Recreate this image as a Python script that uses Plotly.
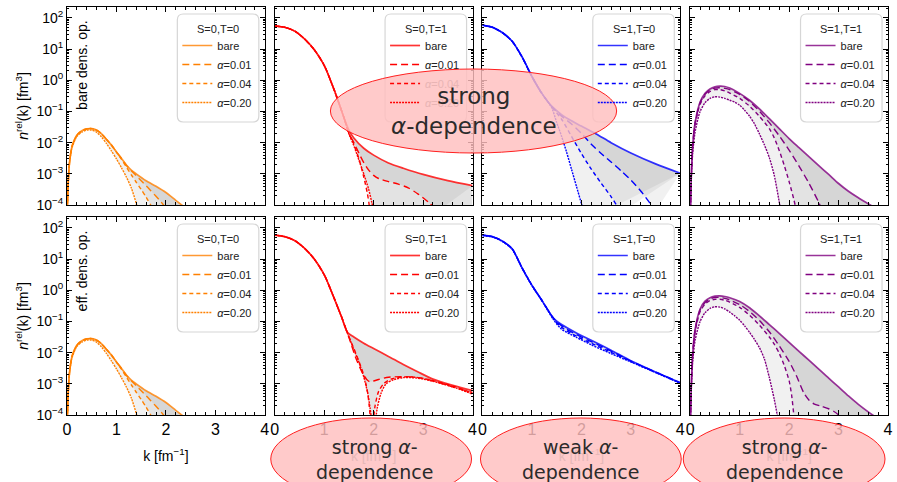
import numpy as np
import plotly.graph_objects as go

# ---------------- data: log10 of n_rel(k) [fm^3] ----------------
K_LOW = [0.005, 0.01, 0.02, 0.05, 0.1, 0.2, 0.3, 0.4, 0.5, 0.6, 0.7, 0.8]

# S=0,T=0 (same in both rows)
k00_bare = K_LOW + [0.9, 1.0, 1.1, 1.2, 1.3, 1.4, 1.6, 1.8, 2.0, 2.2, 2.4]
n00_bare = [-4.6, -4.0, -3.45, -2.65, -2.13, -1.76, -1.62, -1.56, -1.55, -1.6, -1.72, -1.9,
            -2.08, -2.3, -2.5, -2.72, -2.88, -3.0, -3.22, -3.4, -3.6, -3.85, -4.1]
k00_a01 = K_LOW + [0.9, 1.0, 1.1, 1.2, 1.3, 1.4, 1.5, 1.6, 1.7, 1.8, 1.9, 2.0]
n00_a01 = [-4.6, -4.0, -3.45, -2.65, -2.13, -1.76, -1.62, -1.56, -1.55, -1.6, -1.72, -1.9,
           -2.08, -2.3, -2.5, -2.72, -2.9, -3.06, -3.22, -3.38, -3.55, -3.72, -3.9, -4.1]
k00_a04 = K_LOW + [0.9, 1.0, 1.1, 1.2, 1.3, 1.4, 1.5, 1.6, 1.7, 1.8]
n00_a04 = [-4.6, -4.0, -3.45, -2.65, -2.13, -1.76, -1.62, -1.56, -1.55, -1.6, -1.72, -1.9,
           -2.08, -2.3, -2.53, -2.78, -3.03, -3.27, -3.5, -3.75, -4.02, -4.3]
k00_a20 = K_LOW + [0.9, 1.0, 1.1, 1.2, 1.3, 1.4, 1.45]
n00_a20 = [-4.65, -4.05, -3.5, -2.7, -2.17, -1.8, -1.66, -1.6, -1.6, -1.67, -1.82, -2.03,
           -2.27, -2.52, -2.8, -3.1, -3.45, -3.95, -4.3]

# S=0,T=1 bare operator
k01_bare = [0, 0.2, 0.4, 0.6, 0.8, 1.0, 1.2, 1.4, 1.5, 1.6, 1.8, 2.0, 2.3, 2.6, 3.0, 3.5, 4.0]
n01_bare = [1.74, 1.70, 1.58, 1.33, 0.98, 0.48, -0.3, -1.2, -1.6, -1.85, -2.18, -2.4, -2.65, -2.82, -3.02, -3.22, -3.38]
k01_a01 = [0, 0.2, 0.4, 0.6, 0.8, 1.0, 1.2, 1.4, 1.5, 1.6, 1.7, 1.8, 1.9, 2.0, 2.1, 2.3, 2.5, 2.7, 2.9, 3.1, 3.3]
n01_a01 = [1.74, 1.70, 1.58, 1.33, 0.98, 0.48, -0.3, -1.2, -1.7, -2.0, -2.33, -2.64, -2.88, -3.05, -3.15, -3.25, -3.33, -3.45, -3.65, -3.9, -4.2]
k01_a04 = [0, 0.2, 0.4, 0.6, 0.8, 1.0, 1.2, 1.4, 1.5, 1.6, 1.7, 1.8, 1.87, 1.91, 1.95, 2.0, 3.0, 4.0]
n01_a04 = [1.74, 1.70, 1.58, 1.33, 0.98, 0.48, -0.3, -1.2, -1.7, -2.05, -2.5, -3.1, -3.6, -4.0, -4.6, -6.0, -6.0, -6.0]
k01_a20 = [0, 0.2, 0.4, 0.6, 0.8, 1.0, 1.2, 1.4, 1.5, 1.6, 1.7, 1.8, 1.9, 1.96, 2.01, 2.05, 3.0, 4.0]
n01_a20 = [1.74, 1.70, 1.58, 1.33, 0.98, 0.48, -0.3, -1.2, -1.72, -2.1, -2.55, -3.0, -3.5, -3.9, -4.3, -6.0, -6.0, -6.0]

# S=1,T=0 bare operator
k02_bare = [0, 0.2, 0.4, 0.6, 0.8, 1.0, 1.2, 1.4, 1.6, 1.8, 2.0, 2.3, 2.6, 3.0, 3.5, 4.0]
n02_bare = [1.77, 1.70, 1.53, 1.25, 0.75, 0.12, -0.42, -0.83, -1.1, -1.3, -1.47, -1.72, -2.0, -2.33, -2.68, -2.98]
k02_a01 = [0, 0.2, 0.4, 0.6, 0.8, 1.0, 1.2, 1.4, 1.6, 1.8, 2.0, 2.2, 2.4, 2.6, 2.8, 3.0, 3.2, 3.4, 3.5]
n02_a01 = [1.77, 1.70, 1.53, 1.25, 0.75, 0.12, -0.42, -0.84, -1.15, -1.4, -1.7, -2.05, -2.35, -2.62, -2.9, -3.2, -3.55, -3.97, -4.2]
k02_a04 = [0, 0.2, 0.4, 0.6, 0.8, 1.0, 1.2, 1.4, 1.6, 1.8, 2.0, 2.2, 2.4, 2.6, 2.71, 2.8]
n02_a04 = [1.77, 1.70, 1.53, 1.25, 0.75, 0.12, -0.42, -0.85, -1.25, -1.8, -2.35, -2.85, -3.3, -3.73, -4.0, -4.25]
k02_a20 = [0, 0.2, 0.4, 0.6, 0.8, 1.0, 1.2, 1.4, 1.5, 1.6, 1.7, 1.8, 1.9, 2.0, 2.1]
n02_a20 = [1.77, 1.70, 1.53, 1.25, 0.75, 0.12, -0.42, -0.88, -1.35, -1.8, -2.3, -2.85, -3.4, -3.95, -4.5]

# S=1,T=1 bare operator
k03_bare = K_LOW + [1.0, 1.2, 1.4, 1.6, 1.8, 2.0, 2.2, 2.4, 2.6, 2.8, 3.0, 3.2, 3.4, 3.6, 3.8]
n03_bare = [-4.3, -3.7, -3.1, -2.1, -1.35, -0.7, -0.42, -0.28, -0.21, -0.19, -0.2, -0.25,
            -0.42, -0.64, -0.92, -1.23, -1.55, -1.87, -2.16, -2.45, -2.74, -3.02, -3.31, -3.56, -3.77, -3.96, -4.15]
k03_a01 = K_LOW + [1.0, 1.2, 1.4, 1.6, 1.8, 2.0, 2.2, 2.4, 2.6, 2.7]
n03_a01 = [-4.3, -3.7, -3.1, -2.1, -1.36, -0.72, -0.45, -0.31, -0.25, -0.24, -0.26, -0.3,
           -0.45, -0.68, -0.99, -1.36, -1.78, -2.24, -2.75, -3.3, -3.92, -4.3]
k03_a04 = K_LOW + [1.0, 1.2, 1.4, 1.6, 1.7, 1.8, 1.9, 2.0, 2.1, 2.15]
n03_a04 = [-4.35, -3.75, -3.15, -2.15, -1.4, -0.77, -0.5, -0.36, -0.3, -0.3, -0.34, -0.41,
           -0.58, -0.83, -1.16, -1.55, -1.85, -2.25, -2.72, -3.25, -3.85, -4.2]
k03_a20 = K_LOW + [0.9, 1.0, 1.1, 1.2, 1.3, 1.4, 1.5, 1.6, 1.7, 1.8, 1.85]
n03_a20 = [-4.5, -3.9, -3.3, -2.35, -1.65, -1.0, -0.72, -0.58, -0.53, -0.54, -0.58, -0.64,
           -0.7, -0.8, -0.96, -1.15, -1.4, -1.72, -2.07, -2.48, -3.05, -3.9, -4.4]

# S=0,T=1 effective operator
k11_bare = [0, 0.2, 0.4, 0.6, 0.8, 1.0, 1.2, 1.35, 1.47, 1.6, 1.8, 2.0, 2.3, 2.6, 2.9, 3.2, 3.6, 4.0]
n11_bare = [1.77, 1.72, 1.6, 1.35, 1.0, 0.5, -0.25, -0.85, -1.35, -1.5, -1.7, -1.87, -2.12, -2.38, -2.62, -2.85, -3.05, -3.22]
k11_a01 = [0, 0.2, 0.4, 0.6, 0.8, 1.0, 1.2, 1.35, 1.47, 1.55, 1.63, 1.76, 1.86, 1.92, 2.0, 2.1, 2.3, 2.56, 2.8, 3.1, 3.5, 4.0]
n11_a01 = [1.77, 1.72, 1.6, 1.35, 1.0, 0.5, -0.25, -0.85, -1.37, -1.75, -2.13, -2.61, -2.86, -2.93, -2.91, -2.86, -2.79, -2.77, -2.78, -2.86, -3.05, -3.28]
k11_a04 = [0, 0.2, 0.4, 0.6, 0.8, 1.0, 1.2, 1.35, 1.47, 1.6, 1.7, 1.8, 1.87, 1.91, 1.94, 1.96, 1.99, 2.03, 2.1, 2.2, 2.35, 2.6, 2.9, 3.2, 3.6, 4.0]
n11_a04 = [1.77, 1.72, 1.6, 1.35, 1.0, 0.5, -0.25, -0.85, -1.37, -1.87, -2.27, -2.72, -3.2, -3.7, -4.3, -5.5, -4.3, -3.7, -3.25, -3.0, -2.85, -2.78, -2.8, -2.9, -3.07, -3.3]
k11_a20 = [0, 0.2, 0.4, 0.6, 0.8, 1.0, 1.2, 1.35, 1.47, 1.6, 1.7, 1.8, 1.88, 1.93, 1.97, 2.0, 2.03, 2.07, 2.15, 2.25, 2.4, 2.6, 2.9, 3.2, 3.6, 4.0]
n11_a20 = [1.77, 1.72, 1.6, 1.35, 1.0, 0.5, -0.25, -0.85, -1.38, -1.9, -2.3, -2.78, -3.3, -3.8, -4.4, -5.5, -4.4, -3.8, -3.3, -3.0, -2.87, -2.8, -2.82, -2.92, -3.1, -3.33]

# S=1,T=0 effective operator
k12_bare = [0, 0.2, 0.4, 0.6, 0.8, 1.0, 1.2, 1.44, 1.6, 1.9, 2.2, 2.6, 3.0, 3.5, 4.0]
n12_bare = [1.77, 1.72, 1.58, 1.33, 0.72, 0.16, -0.32, -0.90, -1.1, -1.37, -1.6, -1.92, -2.26, -2.62, -2.96]
n12_a01 = [1.77, 1.72, 1.58, 1.33, 0.72, 0.16, -0.32, -0.90, -1.14, -1.42, -1.65, -1.95, -2.27, -2.62, -2.97]
n12_a04 = [1.77, 1.72, 1.58, 1.33, 0.72, 0.16, -0.32, -0.92, -1.19, -1.47, -1.70, -1.99, -2.28, -2.63, -2.97]
n12_a20 = [1.75, 1.71, 1.57, 1.32, 0.71, 0.15, -0.33, -0.95, -1.25, -1.51, -1.75, -2.03, -2.30, -2.64, -2.98]

# S=1,T=1 effective operator
k13_bare = K_LOW + [1.0, 1.2, 1.4, 1.6, 1.8, 2.0, 2.2, 2.4, 2.6, 2.8, 3.0, 3.2, 3.4, 3.6, 3.8]
n13_bare = [-4.3, -3.7, -3.1, -2.05, -1.25, -0.6, -0.35, -0.24, -0.19, -0.18, -0.2, -0.24,
            -0.36, -0.56, -0.82, -1.1, -1.38, -1.67, -1.96, -2.24, -2.53, -2.82, -3.1, -3.39, -3.66, -3.9, -4.12]
k13_a01 = K_LOW + [1.0, 1.2, 1.4, 1.6, 1.8, 2.0, 2.15, 2.3, 2.4, 2.5, 2.65, 2.8, 2.9, 3.0, 3.1]
n13_a01 = [-4.3, -3.7, -3.1, -2.06, -1.27, -0.63, -0.39, -0.28, -0.23, -0.23, -0.26, -0.31,
           -0.46, -0.68, -0.97, -1.33, -1.78, -2.28, -2.75, -3.3, -3.52, -3.64, -3.72, -3.8, -3.88, -4.0, -4.2]
k13_a04 = K_LOW + [1.0, 1.2, 1.4, 1.6, 1.7, 1.8, 1.9, 2.0, 2.05, 2.1, 2.15]
n13_a04 = [-4.35, -3.75, -3.15, -2.1, -1.32, -0.68, -0.44, -0.33, -0.29, -0.29, -0.32, -0.38,
           -0.55, -0.8, -1.12, -1.5, -1.73, -2.02, -2.4, -2.9, -3.35, -4.05, -4.6]
k13_a20 = K_LOW + [0.9, 1.0, 1.1, 1.2, 1.3, 1.4, 1.5, 1.6, 1.7, 1.76, 1.82]
n13_a20 = [-4.5, -3.9, -3.3, -2.3, -1.6, -1.0, -0.72, -0.58, -0.53, -0.54, -0.6, -0.7,
           -0.82, -0.96, -1.14, -1.35, -1.58, -1.84, -2.2, -2.8, -3.5, -4.0, -4.6]

CHANNELS = ["S=0,T=0", "S=0,T=1", "S=1,T=0", "S=1,T=1"]
SERIES = ["bare", "<i>α</i>=0.01", "<i>α</i>=0.04", "<i>α</i>=0.20"]
ROW_LABELS = ["bare dens. op.", "eff. dens. op."]
Y_TICKS = [1e-4, 1e-3, 1e-2, 1e-1, 1e0, 1e1, 1e2]
Y_TICKTEXT = ["10<sup>−4</sup>", "10<sup>−3</sup>", "10<sup>−2</sup>", "10<sup>−1</sup>",
              "10<sup>0</sup>", "10<sup>1</sup>", "10<sup>2</sup>"]
X_TICKS = [0, 1, 2, 3, 4]
NOTES = ["strong<br><i>α</i>-dependence", "strong <i>α</i>-<br>dependence",
         "weak <i>α</i>-<br>dependence", "strong <i>α</i>-<br>dependence"]

PANELS = [
    [(k00_bare, n00_bare), (k00_a01, n00_a01), (k00_a04, n00_a04), (k00_a20, n00_a20)],
    [(k01_bare, n01_bare), (k01_a01, n01_a01), (k01_a04, n01_a04), (k01_a20, n01_a20)],
    [(k02_bare, n02_bare), (k02_a01, n02_a01), (k02_a04, n02_a04), (k02_a20, n02_a20)],
    [(k03_bare, n03_bare), (k03_a01, n03_a01), (k03_a04, n03_a04), (k03_a20, n03_a20)],
    [(k00_bare, n00_bare), (k00_a01, n00_a01), (k00_a04, n00_a04), (k00_a20, n00_a20)],
    [(k11_bare, n11_bare), (k11_a01, n11_a01), (k11_a04, n11_a04), (k11_a20, n11_a20)],
    [(k12_bare, n12_bare), (k12_bare, n12_a01), (k12_bare, n12_a04), (k12_bare, n12_a20)],
    [(k13_bare, n13_bare), (k13_a01, n13_a01), (k13_a04, n13_a04), (k13_a20, n13_a20)],
]

# ---------------- styling / geometry ----------------
W, H = 897, 482
ML, MR, MT, MB = 67, 4, 7, 67
PW, PH = W - ML - MR, H - MT - MB


def fx(p):
    return (p - ML) / PW


def fy(p):
    return (H - MB - p) / PH


COL_PX = [(67, 266), (276, 475), (485, 684), (694, 893)]
ROW_PX = [(7, 205), (217, 415)]
COLORS = ["#FF8000", "#FF0000", "#0000FF", "#800080"]
BARE_COLORS = ["rgba(255,128,0,0.8)", "rgba(255,0,0,0.8)", "rgba(0,0,255,0.8)", "rgba(128,0,128,0.8)"]
DASHES = ["solid", "7px,4px", "4px,3px", "2px,1px"]
FONT = "Liberation Sans, Arial, sans-serif"
SMOOTH = 0.7
# legend entries of panel (row 1, col 2) lying under the highlight ellipse appear faded
FADED = {(1, 2), (1, 3)}

fig = go.Figure()
layout = dict(width=W, height=H, margin=dict(l=ML, r=MR, t=MT, b=MB, pad=0),
              paper_bgcolor="white", plot_bgcolor="rgba(0,0,0,0)",
              font=dict(family=FONT, size=12, color="black"), showlegend=True)
shapes, annotations = [], []

minor_y = [m * 10.0 ** e for e in range(-4, 3) for m in range(2, 10)]

for i, curves in enumerate(PANELS):
    r, c = divmod(i, 4)
    sfx = "" if i == 0 else str(i + 1)
    xa, ya = "x" + sfx, "y" + sfx
    leg = "legend" + sfx
    kb, nb = curves[0]
    yb = np.power(10.0, nb)
    # shaded bands between bare and each alpha curve (three overlapping layers)
    for j in (3, 2, 1):
        fig.add_trace(go.Scatter(x=kb, y=yb, mode="lines", xaxis=xa, yaxis=ya, legend=leg,
                                 line=dict(width=0, shape="spline", smoothing=SMOOTH),
                                 showlegend=False, hoverinfo="skip"))
        kk, nn = curves[j]
        fig.add_trace(go.Scatter(x=kk, y=np.power(10.0, nn), mode="lines", xaxis=xa, yaxis=ya,
                                 legend=leg,
                                 line=dict(width=0, shape="spline", smoothing=SMOOTH),
                                 fill="tonexty", fillcolor="rgba(0,0,0,0.055)",
                                 showlegend=False, hoverinfo="skip"))
    for j in range(4):
        kk, nn = curves[j]
        name = SERIES[j]
        if (i, j) in FADED:
            name = f"<span style='color:#e8b4b4'>{name}</span>"
        fig.add_trace(go.Scatter(
            x=kk, y=np.power(10.0, nn), mode="lines", name=name, xaxis=xa, yaxis=ya,
            legend=leg,
            line=dict(color=BARE_COLORS[c] if j == 0 else COLORS[c],
                      width=1.7 if j == 0 else 1.4, dash=DASHES[j],
                      shape="spline", smoothing=SMOOTH),
            hoverinfo="skip"))

    x0, x1 = COL_PX[c]
    y0, y1 = ROW_PX[r]
    bottom = r == 1
    xax = dict(
        domain=[fx(x0), fx(x1)], anchor=ya, range=[0, 4], tickvals=X_TICKS,
        showticklabels=bottom, tickfont=dict(size=16, family=FONT),
        ticks="inside", ticklen=5, tickwidth=1, tickcolor="black",
        minor=dict(ticks="inside", ticklen=3, dtick=0.2, tick0=0, tickcolor="black", showgrid=False),
        showline=True, linecolor="black", linewidth=1, mirror="allticks",
        showgrid=False, zeroline=False)
    if bottom:
        xax["title"] = dict(text="k [fm<sup>−1</sup>]",
                            font=dict(size=14, family=FONT, color="black" if c == 0 else "#e6b8b8"),
                            standoff=13)
    layout["xaxis" + sfx] = xax
    yax = dict(
        domain=[fy(y1), fy(y0)], anchor=xa, type="log", range=[-4, 2.35],
        tickvals=Y_TICKS, ticktext=Y_TICKTEXT, showticklabels=(c == 0),
        tickfont=dict(size=14, family=FONT),
        ticks="inside", ticklen=5, tickwidth=1, tickcolor="black",
        minor=dict(ticks="inside", ticklen=2, tickvals=minor_y, tickcolor="black", showgrid=False),
        showline=True, linecolor="black", linewidth=1, mirror="allticks",
        showgrid=False, zeroline=False)
    if c == 0:
        yax["title"] = dict(text="<i>n</i><sup>rel</sup>(k) [fm<sup>3</sup>]",
                            font=dict(size=14, family=FONT), standoff=4)
    layout["yaxis" + sfx] = yax

    # legend box (rounded) + title + legend
    bl, br, bt, bb = x1 - 88, x1 - 6, y0 + 7, y0 + 115
    rr = 6
    path = (f"M {fx(bl + rr)},{fy(bt)} L {fx(br - rr)},{fy(bt)} Q {fx(br)},{fy(bt)} {fx(br)},{fy(bt + rr)} "
            f"L {fx(br)},{fy(bb - rr)} Q {fx(br)},{fy(bb)} {fx(br - rr)},{fy(bb)} "
            f"L {fx(bl + rr)},{fy(bb)} Q {fx(bl)},{fy(bb)} {fx(bl)},{fy(bb - rr)} "
            f"L {fx(bl)},{fy(bt + rr)} Q {fx(bl)},{fy(bt)} {fx(bl + rr)},{fy(bt)} Z")
    shapes.append(dict(type="path", path=path, xref="paper", yref="paper",
                       fillcolor="white", line=dict(color="#d6d6d6", width=1.2), layer="below"))
    annotations.append(dict(text=CHANNELS[c], x=fx((bl + br) / 2), y=fy(bt + 15),
                            xref="paper", yref="paper", xanchor="center", yanchor="middle",
                            showarrow=False, font=dict(size=11, family=FONT, color="#222")))
    layout[leg] = dict(
        x=fx(bl), y=fy(bt + 17), xanchor="left", yanchor="top", traceorder="normal",
        bgcolor="rgba(0,0,0,0)", borderwidth=0,
        font=dict(size=11, family=FONT, color="#222"),
        itemwidth=30, tracegroupgap=0, itemclick=False, itemdoubleclick=False)

for r in range(2):
    y0, y1 = ROW_PX[r]
    annotations.append(dict(text=ROW_LABELS[r], x=fx(82), y=fy(y0 + 11), xref="paper", yref="paper",
                            xanchor="center", yanchor="top", textangle=-90, showarrow=False,
                            font=dict(size=14, family=FONT, color="black")))

# highlight ellipses
ELL = [(332, 69, 620, 153), (272, 418, 474, 500), (483, 418, 685, 500), (687, 418, 890, 500)]
NOTE_POS = [(476, 111, 23), (376, 459, 19), (584, 459, 19), (789, 459, 19)]
for (ex0, ey0, ex1, ey1), (tx, ty, fs), note in zip(ELL, NOTE_POS, NOTES):
    shapes.append(dict(type="circle", xref="paper", yref="paper",
                       x0=fx(ex0), x1=fx(ex1), y0=fy(ey1), y1=fy(ey0),
                       fillcolor="rgba(255,190,190,0.82)", line=dict(color="#ff2020", width=1),
                       layer="above"))
    annotations.append(dict(text=note, x=fx(tx), y=fy(ty), xref="paper", yref="paper",
                            xanchor="center", yanchor="middle", showarrow=False, align="center",
                            font=dict(size=fs, family="DejaVu Sans", color="#2b2b2b")))

layout["shapes"] = shapes
layout["annotations"] = annotations
fig.update_layout(**layout)
fig.write_html("out.html")
